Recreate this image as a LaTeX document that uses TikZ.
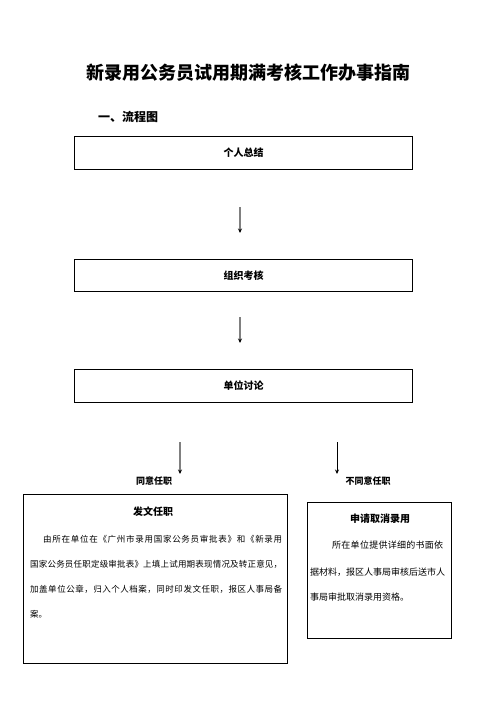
\documentclass[tikz,border=0pt]{standalone}
\usepackage{fontspec}
\newfontfamily\cjk{Noto Sans CJK SC}
\usetikzlibrary{arrows.meta}
\ExplSyntaxOn
\NewDocumentCommand\jline{mm}{\hbox to #1{\tl_map_inline:nn{#2}{##1\hskip 0pt plus 1fil}\unskip}}
\ExplSyntaxOff
\tikzset{
  box/.style={draw, line width=1.1pt, inner sep=0pt, anchor=north west, font=\cjk\bfseries\fontsize{10}{12}\selectfont},
  lbl/.style={inner sep=0pt, font=\cjk\bfseries\fontsize{9}{11}\selectfont},
  body/.style={inner sep=0pt, anchor=west, font=\cjk\fontsize{8.5}{10}\selectfont},
  rbody/.style={inner sep=0pt, anchor=west, font=\cjk\fontsize{9}{11}\selectfont},
  arr/.style={line width=1.2pt, draw=#1, -{Stealth[length=4.5pt,width=4pt,black]}},
  arr/.default=gray
}
\begin{document}
\begin{tikzpicture}[x=1pt,y=-1pt]
\useasboundingbox (0,0) rectangle (496,702);
\node[inner sep=0pt, font=\cjk\bfseries\fontsize{18}{20}\selectfont] (title) at (248,73) {新录用公务员试用期满考核工作办事指南};
\node[inner sep=0pt, anchor=west, font=\cjk\bfseries\fontsize{12}{14}\selectfont] (sub) at (98,117) {一、流程图};

\node[box, minimum width=338pt, minimum height=33pt] (b1) at (74,136) {个人总结};
\node[box, minimum width=338pt, minimum height=32pt] (b2) at (74,259) {组织考核};
\node[box, minimum width=338pt, minimum height=33pt] (b3) at (74,369) {单位讨论};

\coordinate (a1s) at (240,207); \coordinate (a1e) at (240,233);
\coordinate (a2s) at (240,317); \coordinate (a2e) at (240,343);
\coordinate (aLs) at (180,442); \coordinate (aLe) at (180,474);
\coordinate (aRs) at (337,442); \coordinate (aRe) at (337,474);
\draw[arr] (a1s) -- (a1e);
\draw[arr] (a2s) -- (a2e);
\draw[arr] (aLs) -- (aLe);
\draw[arr=black, line width=0.9pt] (aRs) -- (aRe);

\node[lbl] (yes) at (154,481) {同意任职};
\node[lbl] (no) at (368,481) {不同意任职};

\node[draw, line width=1.1pt, anchor=north west, minimum width=264pt, minimum height=169pt, inner sep=0pt] (L) at (23,494) {};
\node[inner sep=0pt, font=\cjk\bfseries\fontsize{10}{12}\selectfont] (Lt) at (153,512) {发文任职};
\node[body] (L1) at (43,539) {\jline{239pt}{由所在单位在《广州市录用国家公务员审批表》和《新录用}};
\node[body] (L2) at (30,564) {\jline{252pt}{国家公务员任职定级审批表》上填上试用期表现情况及转正意见，}};
\node[body] (L3) at (30,589) {\jline{252pt}{加盖单位公章，归入个人档案，同时印发文任职，报区人事局备}};
\node[body] (L4) at (30,614) {案。};

\node[draw, line width=1.1pt, anchor=north west, minimum width=144pt, minimum height=136pt, inner sep=0pt] (R) at (307,502) {};
\node[inner sep=0pt, font=\cjk\bfseries\fontsize{10}{12}\selectfont] (Rt) at (380,519) {申请取消录用};
\node[rbody] (R1) at (332,545) {\jline{111pt}{所在单位提供详细的书面依}};
\node[rbody] (R2) at (310,572) {\jline{133pt}{据材料，报区人事局审核后送市人}};
\node[rbody] (R3) at (310,597) {事局审批取消录用资格。};
\end{tikzpicture}
\end{document}
